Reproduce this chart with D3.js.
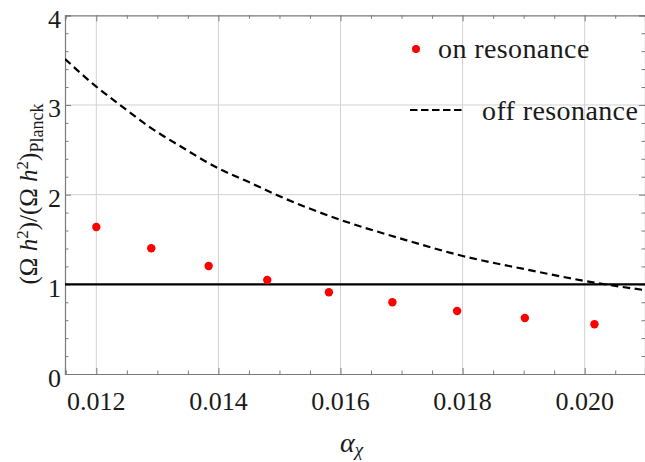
<!DOCTYPE html>
<html>
<head>
<meta charset="utf-8">
<script src="https://cdn.jsdelivr.net/npm/d3@7"></script>
<style>
  html, body { margin: 0; padding: 0; background: #fff; }
  svg { display: block; }
  svg text { font-family: "Liberation Serif", "DejaVu Serif", serif; }
</style>
</head>
<body>
<svg id="chart" width="645" height="462"></svg>
<script>
// Relic abundance relative to Planck value vs. dark coupling alpha_chi
const onResX = [0.01200, 0.01290, 0.01384, 0.01480, 0.01581, 0.01685, 0.01791, 0.01902, 0.02016];
const onResY = [1.640, 1.402, 1.204, 1.048, 0.912, 0.800, 0.703, 0.625, 0.554];

const offResX = [0.011487, 0.01200, 0.012388, 0.01288, 0.013371, 0.013998, 0.014518, 0.014955,
                 0.016008, 0.016975, 0.018002, 0.01900, 0.020005, 0.020988];
const offResY = [3.513, 3.204, 3.000, 2.751, 2.542, 2.294, 2.134, 1.996,
                 1.717, 1.513, 1.316, 1.172, 1.037, 0.935];

const xTicks = [0.012, 0.014, 0.016, 0.018, 0.020];
const xTickLabels = ["0.012", "0.014", "0.016", "0.018", "0.020"];
const yTicks = [0, 1, 2, 3, 4];
const yTickLabels = ["0", "1", "2", "3", "4"];
const referenceLevel = 1;

const FONT = "'Liberation Serif', 'DejaVu Serif', serif";
const svg = d3.select("#chart");
const L = 65, R = 645, T = 15.3, B = 374;

const x = d3.scaleLinear().domain([0.011487, 0.020988]).range([L, R]);
const y = d3.scaleLinear().domain([0, 4]).range([B, T]);

const frameCol = "#7a7a7a";
const gridCol = "#d2d2d2";

svg.append("defs").append("clipPath").attr("id", "plotClip")
  .append("rect").attr("x", L).attr("y", T).attr("width", R - L).attr("height", B - T);

// grid lines at major ticks
const grid = svg.append("g");
grid.selectAll("line.gx").data(xTicks).join("line")
  .attr("x1", d => x(d)).attr("x2", d => x(d)).attr("y1", T).attr("y2", B)
  .attr("stroke", gridCol).attr("stroke-width", 1);
grid.selectAll("line.gy").data(yTicks.filter(d => d > 0 && d < 4)).join("line")
  .attr("x1", L).attr("x2", R).attr("y1", d => y(d)).attr("y2", d => y(d))
  .attr("stroke", gridCol).attr("stroke-width", 1);

// frame axes with inward ticks on all sides
const xMinor = d3.range(0.0115, 0.02101, 0.0005).filter(v => !xTicks.some(t => Math.abs(t - v) < 1e-9));
const yMinor = d3.range(0, 4.0001, 0.2).filter(v => !yTicks.some(t => Math.abs(t - v) < 1e-9));

function frameAxis(axisFn, scale, transform, major, minor, majorLen, minorLen) {
  svg.append("g").attr("transform", transform)
    .call(axisFn(scale).tickValues(major).tickSize(majorLen).tickFormat(""));
  svg.append("g").attr("transform", transform)
    .call(axisFn(scale).tickValues(minor).tickSize(minorLen).tickFormat(""))
    .call(g => g.select(".domain").remove());
}

frameAxis(d3.axisTop, x, `translate(0,${B})`, xTicks, xMinor, 6, 3.5);
frameAxis(d3.axisBottom, x, `translate(0,${T})`, xTicks, xMinor, 6, 3.5);
frameAxis(d3.axisRight, y, `translate(${L},0)`, yTicks, yMinor, 6, 3.5);
frameAxis(d3.axisLeft, y, `translate(${R},0)`, yTicks, yMinor, 6, 3.5);

svg.selectAll(".tick line").attr("stroke", frameCol).attr("stroke-width", 1);
svg.selectAll(".domain").attr("stroke", frameCol).attr("stroke-width", 1.2);

// tick labels
svg.append("g").selectAll("text").data(xTicks).join("text")
  .attr("x", d => x(d)).attr("y", 410)
  .attr("text-anchor", "middle").attr("font-family", FONT).attr("font-size", 26).attr("fill", "#1a1a1a")
  .text((d, i) => xTickLabels[i]);
svg.append("g").selectAll("text").data(yTicks).join("text")
  .attr("x", 61).attr("y", d => y(d) + 12.5)
  .attr("text-anchor", "end").attr("font-family", FONT).attr("font-size", 26).attr("fill", "#1a1a1a")
  .text((d, i) => yTickLabels[i]);

// reference level
svg.append("line")
  .attr("x1", L).attr("x2", R).attr("y1", y(referenceLevel)).attr("y2", y(referenceLevel))
  .attr("stroke", "#000").attr("stroke-width", 2.3);

// off-resonance curve
const line = d3.line().x((d, i) => x(offResX[i])).y(d => y(d)).curve(d3.curveMonotoneX);
svg.append("path").datum(offResY)
  .attr("clip-path", "url(#plotClip)")
  .attr("d", line)
  .attr("fill", "none").attr("stroke", "#000").attr("stroke-width", 2.2)
  .attr("stroke-dasharray", "7.5,4.5");

// on-resonance points
svg.append("g").selectAll("circle").data(onResY).join("circle")
  .attr("cx", (d, i) => x(onResX[i])).attr("cy", d => y(d)).attr("r", 4.2)
  .attr("fill", "#ff0000");

// legend
const lg = svg.append("g").attr("font-family", FONT);
lg.append("circle").attr("cx", 416).attr("cy", 49).attr("r", 4).attr("fill", "#ff0000");
lg.append("text").attr("x", 438).attr("y", 58).attr("font-size", 28).attr("letter-spacing", 0.4)
  .attr("fill", "#1a1a1a").text("on resonance");
lg.append("line").attr("x1", 410).attr("x2", 462).attr("y1", 110).attr("y2", 110)
  .attr("stroke", "#000").attr("stroke-width", 2.2).attr("stroke-dasharray", "7.5,3.5");
lg.append("text").attr("x", 482).attr("y", 120).attr("font-size", 28).attr("letter-spacing", 0.4)
  .attr("fill", "#1a1a1a").text("off resonance");

// axis titles
const xt = svg.append("text").attr("x", 340).attr("y", 452)
  .attr("font-family", FONT).attr("font-size", 28).attr("fill", "#1a1a1a");
xt.append("tspan").attr("font-style", "italic").text("α");
xt.append("tspan").attr("font-style", "italic").attr("font-size", 19).attr("dy", 4).text("χ");

const yt = svg.append("text")
  .attr("transform", "translate(37,194) rotate(-90)")
  .attr("text-anchor", "middle").attr("font-family", FONT).attr("font-size", 25).attr("fill", "#1a1a1a");
yt.append("tspan").text("(Ω ");
yt.append("tspan").attr("font-style", "italic").text("h");
yt.append("tspan").attr("font-size", 17).attr("dy", -9).text("2");
yt.append("tspan").attr("dy", 9).text(")/(Ω ");
yt.append("tspan").attr("font-style", "italic").text("h");
yt.append("tspan").attr("font-size", 17).attr("dy", -9).text("2");
yt.append("tspan").attr("dy", 9).text(")");
yt.append("tspan").attr("font-size", 18).attr("dy", 6).text("Planck");
</script>
</body>
</html>
